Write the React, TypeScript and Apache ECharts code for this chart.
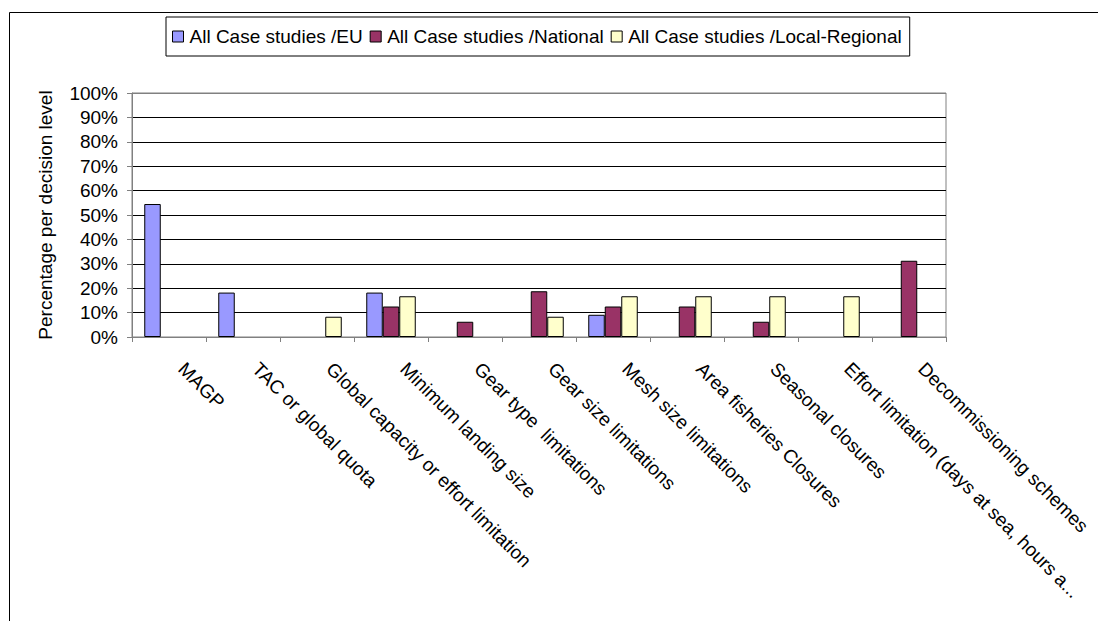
import React, { useEffect, useRef } from "react";
import * as echarts from "echarts";

const categories = [
  "MAGP",
  "TAC or global quota",
  "Global capacity or effort limitation",
  "Minimum landing size",
  "Gear type  limitations",
  "Gear size limitations",
  "Mesh size limitations",
  "Area fisheries Closures",
  "Seasonal closures",
  "Effort limitation (days at sea, hours a...",
  "Decommissioning schemes",
];

const seriesNames = [
  "All Case studies /EU",
  "All Case studies /National",
  "All Case studies /Local-Regional",
];

const euValues = [54.5, 18.2, null, 18.2, null, null, 9.1, null, null, null, null];
const nationalValues = [null, null, null, 12.5, 6.25, 18.75, 12.5, 12.5, 6.25, null, 31.25];
const localValues = [null, null, 8.3, 16.7, null, 8.3, 16.7, 16.7, 16.7, 16.7, null];

const colors = ["#9999FF", "#993366", "#FFFFCC"];
const FONT = "'Liberation Sans', Arial, sans-serif";

export default function App() {
  const ref = useRef<HTMLDivElement>(null);
  useEffect(() => {
    if (!ref.current) return;
    const chart = echarts.init(ref.current, null, { renderer: "svg" });
    const values = [euValues, nationalValues, localValues];
    const gridColors = [
      "#808080", "#000", "#000", "#000", "#000", "#000",
      "#000", "#000", "#000", "#000", "#808080",
    ];
    chart.setOption({
      animation: false,
      backgroundColor: "#fff",
      textStyle: { fontFamily: FONT },
      graphic: [
        {
          type: "rect",
          shape: { x: 9.5, y: 12.5, width: 1200, height: 700 },
          style: { fill: "none", stroke: "#000", lineWidth: 1 },
          silent: true,
          z: -10,
        },
      ],
      legend: {
        left: 166,
        top: 17,
        padding: [10, 8, 10, 6],
        itemWidth: 11,
        itemHeight: 11,
        itemGap: 7,
        borderColor: "#000",
        borderWidth: 1,
        icon: "rect",
        itemStyle: { borderColor: "#000", borderWidth: 1 },
        textStyle: { fontFamily: FONT, fontSize: 19, color: "#000", padding: [0, 0, 0, 1] },
        data: seriesNames,
      },
      grid: {
        left: 132,
        right: 152,
        top: 93,
        bottom: 284,
        show: true,
        borderColor: "#808080",
        borderWidth: 1,
        containLabel: false,
        outerBoundsMode: "none",
      },
      xAxis: {
        type: "category",
        data: categories,
        axisLine: { lineStyle: { color: "#808080", width: 1 } },
        axisTick: { show: true, length: 5, lineStyle: { color: "#808080" } },
        axisLabel: {
          rotate: -45,
          interval: 0,
          margin: 16,
          padding: [0, 0, 0, 18],
          fontSize: 19,
          color: "#000",
          fontFamily: FONT,
        },
      },
      yAxis: {
        type: "value",
        min: 0,
        max: 100,
        interval: 10,
        name: "Percentage per decision level",
        nameLocation: "middle",
        nameGap: 77,
        nameTextStyle: { fontSize: 19, color: "#000", fontFamily: FONT },
        axisLine: { show: true, lineStyle: { color: "#808080", width: 1 } },
        axisTick: { show: true, length: 5, lineStyle: { color: "#808080" } },
        axisLabel: {
          formatter: "{value}%",
          fontSize: 19,
          color: "#000",
          margin: 14,
          fontFamily: FONT,
        },
        splitLine: { lineStyle: { color: gridColors, width: 1 } },
      },
      series: seriesNames.map((name, i) => ({
        name,
        type: "bar",
        data: values[i],
        barWidth: 16.5,
        barGap: "0%",
        itemStyle: { color: colors[i], borderColor: "#000", borderWidth: 1 },
      })),
    });
    return () => chart.dispose();
  }, []);
  return (
    <div
      ref={ref}
      style={{ position: "fixed", left: 0, top: 0, width: 1098, height: 621 }}
    />
  );
}
